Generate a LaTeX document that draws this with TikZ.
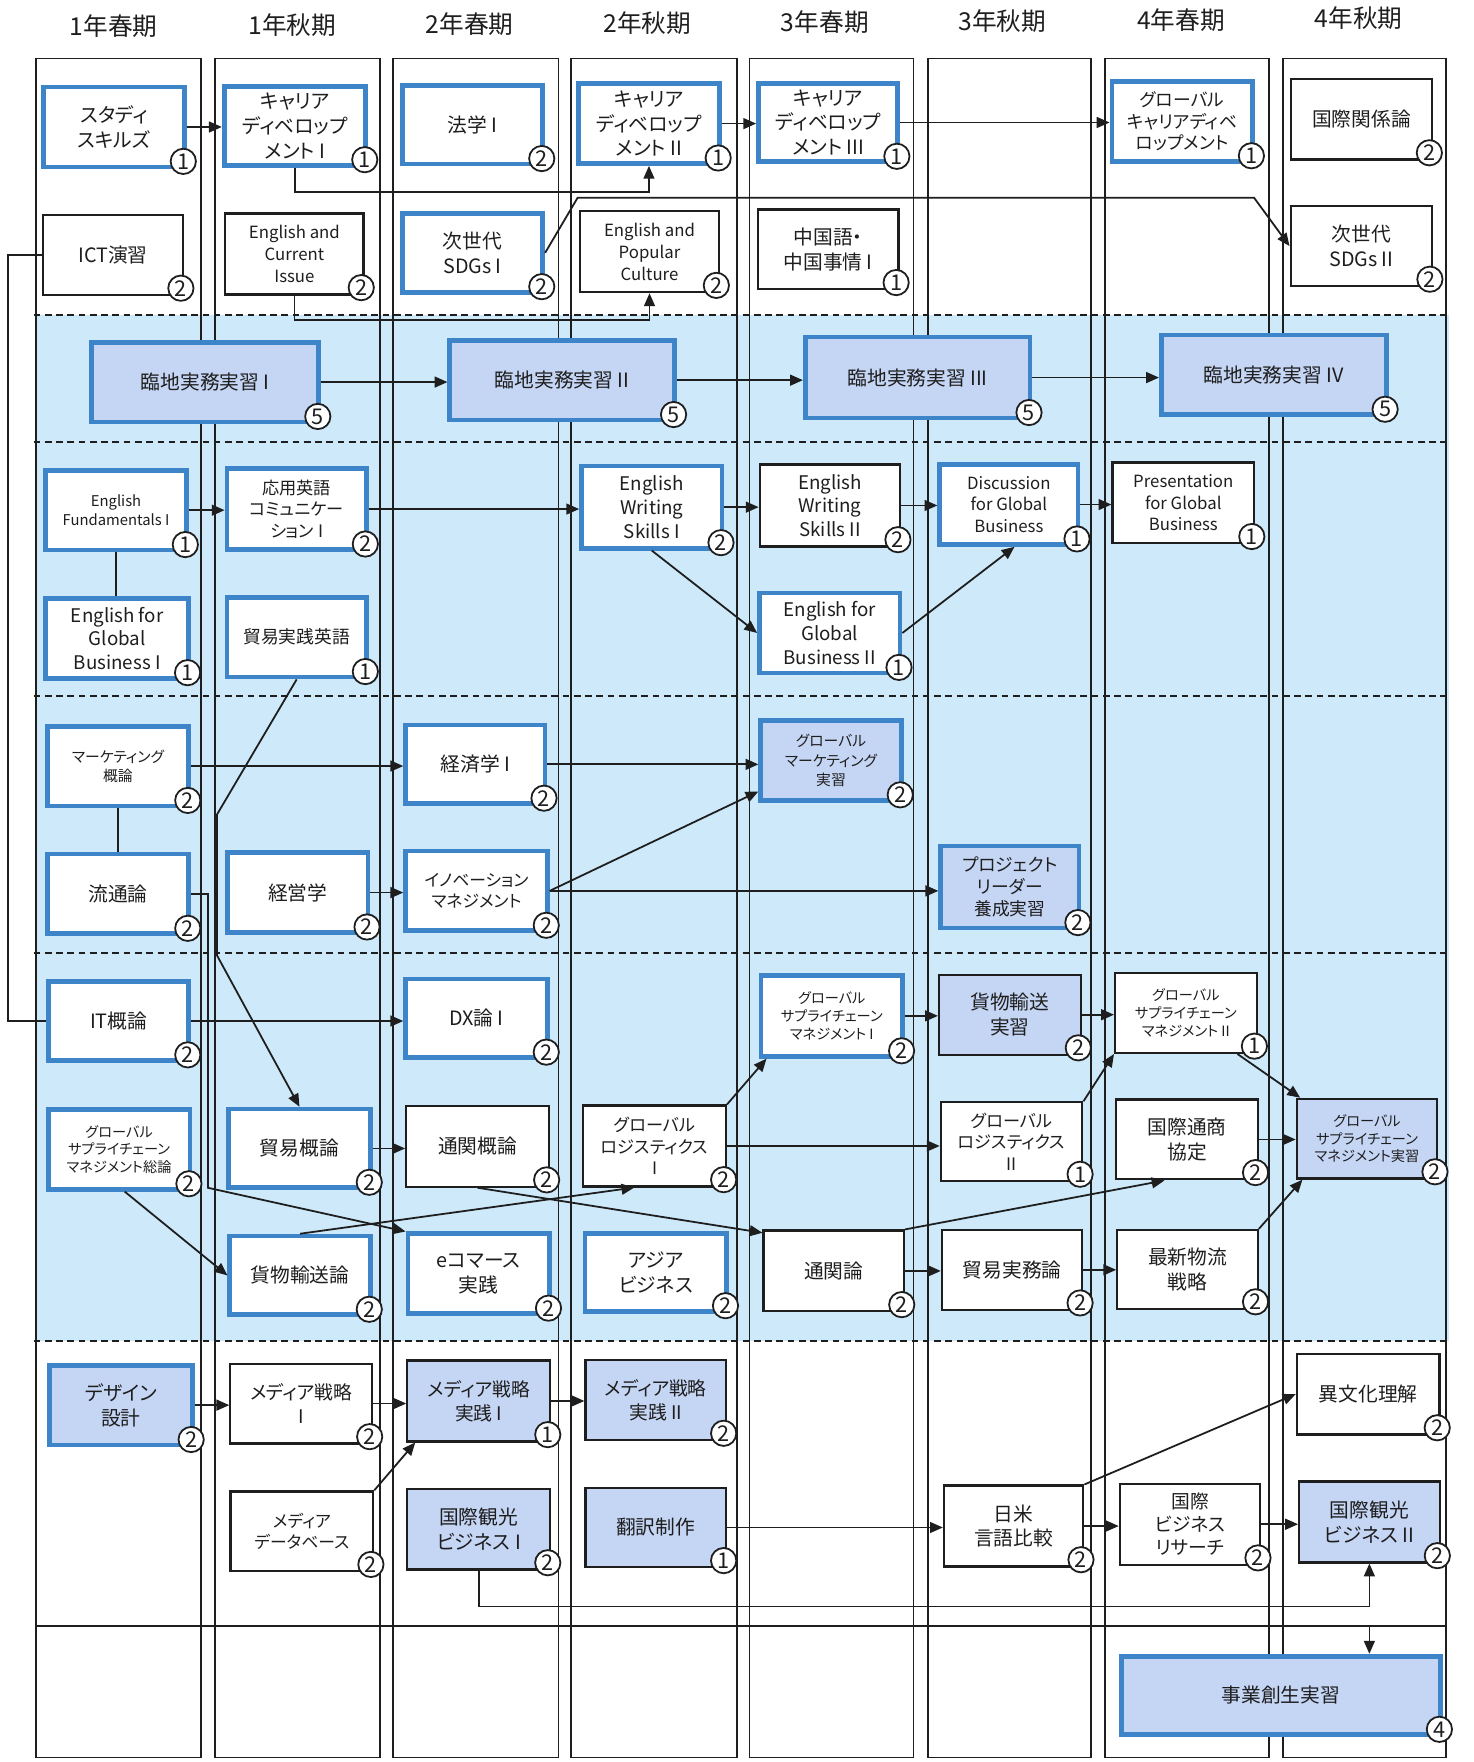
\documentclass[tikz,border=0pt]{standalone}
\usepackage{fontspec}
\setmainfont{Noto Sans CJK JP}[RawFeature=+palt]
\usetikzlibrary{arrows.meta,calc}
\definecolor{bblue}{RGB}{62,132,200}
\definecolor{lav}{RGB}{197,213,244}
\definecolor{skyb}{RGB}{206,233,250}
\definecolor{ink}{RGB}{30,30,30}
\newcommand\myfs[2]{\fontsize{#1}{#2}\selectfont}
\newcommand\cnum[2]{\node[cn] (#1-n) at ($(#1.south east)+(-3,-7)$) {#2};}
\tikzset{
  base/.style={align=center, inner sep=0pt, text=ink, font=\myfs{10}{12.5}},
  bw/.style 2 args={base, draw=bblue, line width=2.4pt, fill=white,
     minimum width=(#1-4)*0.02cm, minimum height=(#2-4)*0.02cm},
  bl/.style 2 args={bw={#1}{#2}, fill=lav},
  kw/.style 2 args={base, draw=ink, line width=1.1pt, fill=white,
     minimum width=(#1-1)*0.02cm, minimum height=(#2-1)*0.02cm},
  kl/.style 2 args={kw={#1}{#2}, fill=lav},
  cn/.style={circle, draw=ink, line width=0.9pt, fill=white, inner sep=0pt,
     minimum size=0.45cm, text=ink, font=\myfs{11}{11}},
  hdr/.style={text=ink, font=\myfs{12.5}{14}},
  arr/.style={draw=ink, line width=0.9pt, -{Triangle[length=6.5pt,width=5.5pt]}},
  ln/.style={draw=ink, line width=0.9pt},
  colf/.style={draw=ink, line width=0.9pt},
  dsh/.style={draw=ink, line width=1pt, dash pattern=on 3.4pt off 2.3pt},
}
\begin{document}
\begin{tikzpicture}[x=0.02cm, y=-0.02cm]
\useasboundingbox (0,0) rectangle (1311,1568);
\fill[white] (0,0) rectangle (1311,1568);
% blue band
\fill[skyb] (31,280) rectangle (1289,1193);
% column frames
\foreach \l/\r in {32/179, 191/338, 350/497, 508/656, 667/813, 826/971, 983/1129, 1142/1287}
  {\draw[colf] (\l,52) rectangle (\r,1564);}
% dashed separators
\foreach \y in {280,393,619,848,1193} {\draw[dsh] (30,\y) -- (1290,\y);}
% headers
\node[hdr] (h1) at (101,23.5) {1年春期};
\node[hdr] (h2) at (260,22.5) {1年秋期};
\node[hdr] (h3) at (418,21.5) {2年春期};
\node[hdr] (h4) at (576,20.5) {2年秋期};
\node[hdr] (h5) at (734,19.5) {3年春期};
\node[hdr] (h6) at (892,18.5) {3年秋期};
\node[hdr] (h7) at (1051,17.5) {4年春期};
\node[hdr] (h8) at (1209,16.5) {4年秋期};

% ---- band 1
\node[bw={129}{75}] (ss) at (101.5,113) {スタディ\\スキルズ};
\node[bw={130}{74}] (cd1) at (262.5,112) {キャリア\\ディベロップ\\メント I};
\node[bw={129}{74}] (hou) at (420.5,111) {法学 I};
\node[bw={129}{75}] (cd2) at (577.5,110) {キャリア\\ディベロップ\\メント II};
\node[bw={128}{74}] (cd3) at (737,109) {キャリア\\ディベロップ\\メント III};
\node[bw={129}{75},font=\myfs{9}{11}] (gcd) at (1052,108) {グローバル\\キャリアディベ\\ロップメント};
\node[kw={126}{73}] (kkr) at (1211.5,106) {国際関係論};
\node[kw={126}{72}] (ict) at (100.5,227) {ICT演習};
\node[kw={124}{73},font=\myfs{8.5}{11}] (eci) at (262,226) {English and\\Current\\Issue};
\node[bw={129}{74}] (sdg1) at (420.5,225) {次世代\\SDGs I};
\node[kw={124}{73},font=\myfs{8.5}{11}] (epc) at (578,224) {English and\\Popular\\Culture};
\node[kw={126}{72}] (chn) at (737,222) {中国語・\\中国事情 I};
\node[kw={127}{72}] (sdg2) at (1211.5,219) {次世代\\SDGs II};
% ---- band 2
\node[bl={206}{75}] (rin1) at (182.7,340) {臨地実務実習 I};
\node[bl={204}{75}] (rin2) at (500.3,338.3) {臨地実務実習 II};
\node[bl={204}{76}] (rin3) at (816.6,336) {臨地実務実習 III};
\node[bl={204}{75}] (rin4) at (1133.5,333.6) {臨地実務実習 IV};
% ---- band 3
\node[bw={129}{75},font=\myfs{7.5}{9.5}] (ef1) at (103.3,454) {English\\Fundamentals I};
\node[bw={128}{76},font=\myfs{8.7}{11}] (oyo) at (264,453) {応用英語\\コミュニケー\\ション I};
\node[bw={129}{77},font=\myfs{9.5}{12}] (ews1) at (580,451.3) {English\\Writing\\Skills I};
\node[kw={126}{74},font=\myfs{9.5}{12}] (ews2) at (738.6,449.8) {English\\Writing\\Skills II};
\node[bw={127}{75},font=\myfs{8.5}{11}] (dgb) at (897.8,449) {Discussion\\for Global\\Business};
\node[kw={127}{73},font=\myfs{8.5}{11}] (pgb) at (1053,447.5) {Presentation\\for Global\\Business};
\node[bw={131}{75},font=\myfs{9.5}{12}] (egb1) at (104.3,568) {English for\\Global\\Business I};
\node[bw={128}{75},font=\myfs{9}{11}] (bjx) at (264,567) {貿易実践英語};
\node[bw={129}{75},font=\myfs{9.5}{12}] (egb2) at (738.4,563.3) {English for\\Global\\Business II};
% ---- band 4
\node[bw={130}{75},font=\myfs{7.5}{9.5}] (mkt) at (105,681.7) {マーケティング\\概論};
\node[bw={128}{74}] (kei) at (423,680.2) {経済学 I};
\node[bl={129}{75},font=\myfs{7.5}{10}] (gmk) at (739.5,676.7) {グローバル\\マーケティング\\実習};
\node[bw={130}{75}] (ryu) at (105,795.5) {流通論};
\node[bw={129}{75}] (keiei) at (265,794.3) {経営学};
\node[bw={130}{75},font=\myfs{8.5}{10.5}] (inno) at (424,792.8) {イノベーション\\マネジメント};
\node[bl={127}{77},font=\myfs{9}{11}] (plj) at (898.6,789.4) {プロジェクト\\リーダー\\養成実習};
% ---- band 5
\node[bw={129}{74}] (itg) at (105.5,908.6) {IT概論};
\node[bw={130}{74}] (dx) at (424,906.2) {DX論 I};
\node[bw={130}{76},font=\myfs{7.2}{9}] (gscm1) at (740.2,904) {グローバル\\サプライチェーン\\マネジメント I};
\node[kl={127}{72}] (kmj) at (898.6,903) {貨物輸送\\実習};
\node[kw={127}{72},font=\myfs{7.2}{9}] (gscm2) at (1055.3,901.5) {グローバル\\サプライチェーン\\マネジメント II};
\node[bw={130}{75},font=\myfs{7.2}{9}] (gscms) at (106,1022.8) {グローバル\\サプライチェーン\\マネジメント総論};
\node[bw={130}{74}] (bog) at (266.5,1022) {貿易概論};
\node[kw={128}{73}] (tkg) at (425,1020) {通関概論};
\node[kw={128}{73},font=\myfs{8.7}{10.8}] (gl1) at (582.5,1019.8) {グローバル\\ロジスティクス\\I};
\node[kw={127}{71},font=\myfs{8.7}{10.8}] (gl2) at (900.2,1016) {グローバル\\ロジスティクス\\II};
\node[kw={127}{72}] (tsk) at (1056.3,1014) {国際通商\\協定};
\node[kl={126}{72},font=\myfs{7.2}{9}] (gscmj) at (1216.5,1013.3) {グローバル\\サプライチェーン\\マネジメント実習};
\node[bw={129}{74}] (kmr) at (267,1135) {貨物輸送論};
\node[bw={130}{75}] (ecom) at (426,1133.5) {eコマース\\実践};
\node[bw={130}{73}] (asia) at (583.5,1132.3) {アジア\\ビジネス};
\node[kw={126}{73}] (tkr) at (742,1131) {通関論};
\node[kw={126}{72}] (bjm) at (900.7,1130) {貿易実務論};
\node[kw={126}{71}] (sbr) at (1056.8,1129.5) {最新物流\\戦略};
% ---- band 6
\node[bl={131}{75}] (dsn) at (107.5,1250.4) {デザイン\\設計};
\node[kw={127}{72},font=\myfs{9.5}{12}] (med1) at (268,1249) {メディア戦略\\I};
\node[kl={128}{73},font=\myfs{9.5}{12}] (mj1) at (426,1246.7) {メディア戦略\\実践 I};
\node[kl={126}{72},font=\myfs{9.5}{12}] (mj2) at (583.5,1246) {メディア戦略\\実践 II};
\node[kw={128}{73}] (ibk) at (1217.5,1240.6) {異文化理解};
\node[kw={128}{72},font=\myfs{8.5}{10.5}] (mdb) at (268.6,1362.7) {メディア\\データベース};
\node[kl={128}{73}] (kk1) at (426,1360.7) {国際観光\\ビジネス I};
\node[kl={126}{72}] (hon) at (583.5,1359.3) {翻訳制作};
\node[kw={125}{73}] (nb) at (902,1358) {日米\\言語比較};
\node[kw={126}{73},font=\myfs{9.5}{11.5}] (ibr) at (1059,1356.4) {国際\\ビジネス\\リサーチ};
\node[kl={126}{73}] (kk2) at (1218.6,1354.4) {国際観光\\ビジネス II};
% ---- band 7
\node[bl={288}{74}] (jgs) at (1139.8,1508.8) {事業創生実習};

% ---- connectors
\draw[arr] (ss.east) -- (ss.east -| cd1.west);
\draw[arr] (cd1.south) -- ++(0,22) -| (cd2.south);
\coordinate (sA) at (514,176);
\coordinate (sB) at (1116,176);
\draw[arr] (sdg1.east) -- (sA) -- (sB) -- (sdg2.west);
\draw[arr] (eci.south) -- ++(0,22) -| (epc.south);
\draw[arr] (cd2.east) -- (cd2.east -| cd3.west);
\draw[arr] (cd3.east) -- (cd3.east -| gcd.west);
\draw[ln] (ict.west) -- ++(-30,0) |- (itg.west);
\draw[arr] (rin1.east) -- (rin1.east -| rin2.west);
\draw[arr] (rin2.east) -- (rin2.east -| rin3.west);
\draw[arr] (rin3.east) -- (rin3.east -| rin4.west);
\draw[arr] (ef1.east) -- (ef1.east -| oyo.west);
\draw[ln] (ef1.south) -- (ef1.south |- egb1.north);
\draw[arr] (oyo.east) -- (oyo.east -| ews1.west);
\draw[arr] (ews1.east) -- (ews1.east -| ews2.west);
\draw[arr] (ews2.east) -- (ews2.east -| dgb.west);
\draw[arr] (dgb.east) -- (dgb.east -| pgb.west);
\draw[arr] (ews1.south) -- (egb2.west);
\draw[arr] (egb2.east) -- ($(dgb.south)+(5,0)$);
\coordinate (bA) at (193,725);
\coordinate (bB) at (193,850);
\draw[arr] (bjx.south) -- (bA) -- (bB) -- (bog.north);
\draw[arr] (mkt.east) -- (mkt.east -| kei.west);
\draw[ln] (mkt.south) -- (mkt.south |- ryu.north);
\draw[arr] (kei.east) -- (kei.east -| gmk.west);
\draw[arr] (keiei.east) -- (keiei.east -| inno.west);
\draw[arr] (inno.east) -- ($(gmk.south west)+(0,-10)$);
\draw[arr] (inno.east) -- (inno.east -| plj.west);
\coordinate (rA) at (185,1057);
\draw[arr] (ryu.east) -| (rA) -- (ecom.north west);
\draw[arr] (itg.east) -- (itg.east -| dx.west);
\draw[arr] (gscm1.east) -- (gscm1.east -| kmj.west);
\draw[arr] (kmj.east) -- (kmj.east -| gscm2.west);
\draw[arr] ($(gscm2.south east)+(-18,0)$) -- ($(gscmj.north west)+(4,0)$);
\draw[arr] (gl1.north east) -- ($(gscm1.south west)+(7,0)$);
\draw[arr] (gl1.east) -- (gl1.east -| gl2.west);
\draw[arr] (gl2.north east) -- (gscm2.south west);
\draw[arr] (tsk.east) -- (tsk.east -| gscmj.west);
\draw[arr] (bog.east) -- (bog.east -| tkg.west);
\draw[arr] ($(gscms.south)+(5,0)$) -- (kmr.west);
\draw[arr] (kmr.north) -- ($(gl1.south)+(-18,0)$);
\draw[arr] (tkg.south) -- ($(tkr.north west)+(0,3)$);
\draw[arr] (tkr.north east) -- ($(tsk.south)+(-20,0)$);
\draw[arr] (tkr.east) -- (tkr.east -| bjm.west);
\draw[arr] (bjm.east) -- (bjm.east -| sbr.west);
\draw[arr] (sbr.north east) -- ($(gscmj.south west)+(6,0)$);
\draw[arr] (dsn.east) -- (dsn.east -| med1.west);
\draw[arr] (med1.east) -- (med1.east -| mj1.west);
\draw[arr] (mj1.east) -- (mj1.east -| mj2.west);
\draw[arr] (mdb.north east) -- ($(mj1.south west)+(8,0)$);
\draw[arr] (hon.east) -- (hon.east -| nb.west);
\draw[arr] (nb.north east) -- (ibk.west);
\draw[arr] (nb.east) -- (nb.east -| ibr.west);
\draw[arr] (ibr.east) -- (ibr.east -| kk2.west);
\draw[arr] (kk1.south) -- ++(0,32) -| (kk2.south);
\coordinate (hl1) at (32,1447);
\coordinate (hl2) at (1287,1447);
\draw[ln] (hl1) -- (hl2);
\draw[arr] (hl1 -| kk2.south) -- (jgs.north -| kk2.south);

% ---- credit circles
\cnum{ss}{1} \cnum{cd1}{1} \cnum{hou}{2} \cnum{cd2}{1} \cnum{cd3}{1}
\cnum{gcd}{1} \cnum{kkr}{2} \cnum{ict}{2} \cnum{eci}{2} \cnum{sdg1}{2}
\cnum{epc}{2} \cnum{chn}{1} \cnum{sdg2}{2}
\cnum{rin1}{5} \cnum{rin2}{5} \cnum{rin3}{5} \cnum{rin4}{5}
\cnum{ef1}{1} \cnum{oyo}{2} \cnum{ews1}{2} \cnum{ews2}{2} \cnum{dgb}{1}
\cnum{pgb}{1} \cnum{egb1}{1} \cnum{bjx}{1} \cnum{egb2}{1}
\cnum{mkt}{2} \cnum{kei}{2} \cnum{gmk}{2} \cnum{ryu}{2} \cnum{keiei}{2}
\cnum{inno}{2} \cnum{plj}{2}
\cnum{itg}{2} \cnum{dx}{2} \cnum{gscm1}{2} \cnum{kmj}{2} \cnum{gscm2}{1}
\cnum{gscms}{2} \cnum{bog}{2} \cnum{tkg}{2} \cnum{gl1}{2} \cnum{gl2}{1}
\cnum{tsk}{2} \cnum{gscmj}{2} \cnum{kmr}{2} \cnum{ecom}{2} \cnum{asia}{2}
\cnum{tkr}{2} \cnum{bjm}{2} \cnum{sbr}{2}
\cnum{dsn}{2} \cnum{med1}{2} \cnum{mj1}{1} \cnum{mj2}{2} \cnum{ibk}{2}
\cnum{mdb}{2} \cnum{kk1}{2} \cnum{hon}{1} \cnum{nb}{2} \cnum{ibr}{2}
\cnum{kk2}{2} \cnum{jgs}{4}
\end{tikzpicture}
\end{document}
